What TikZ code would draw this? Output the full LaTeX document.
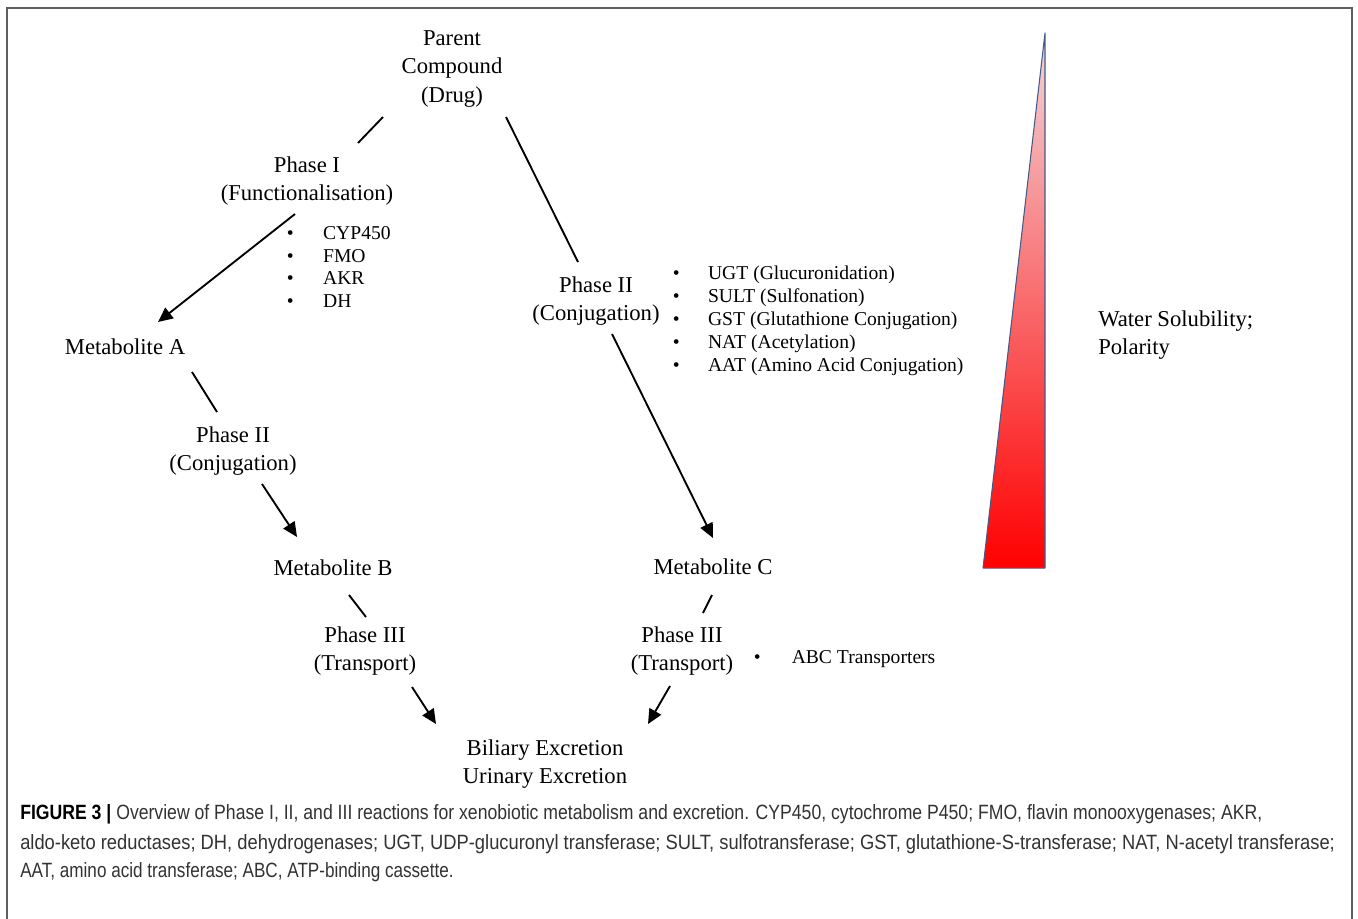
\documentclass[tikz,border=0pt]{standalone}
\usepackage{fontspec}
\usepackage{graphicx}
\setmainfont{Liberation Serif}
\newfontfamily\capfont{Liberation Sans}
\usetikzlibrary{arrows.meta}
\definecolor{framegray}{RGB}{95,95,95}
\definecolor{capgray}{RGB}{50,50,50}
\definecolor{tribord}{RGB}{70,90,135}
\definecolor{pinktop}{RGB}{243,214,218}
\newlength\capw
\newcommand\fitto[2]{\settowidth\capw{#2}\pgfmathsetmacro\myratio{#1/\capw}\scalebox{\myratio}[1]{#2}}
\newcommand\bul[1]{\makebox[#1][l]{\textbullet}}
\begin{document}
\begin{tikzpicture}[x=0.75pt,y=-0.75pt,
  lbl/.style={inner sep=0pt, align=center, font=\fontsize{17}{21.5}\selectfont},
  item/.style={inner sep=0pt, anchor=base west, font=\fontsize{14.7}{16}\selectfont},
  link/.style={line width=1.4pt},
  arr/.style={line width=1.4pt, -{Triangle[length=11pt,width=10pt]}},
  captext/.style={inner sep=0pt, anchor=base west, font=\capfont\fontsize{15.5}{17}\selectfont, text=capgray}]
\useasboundingbox (0,0) rectangle (1358,918);
\draw[framegray, line width=1.1pt] (7,8) rectangle (1352,940);

% main nodes
\node[lbl] (parent) at (452,69) {Parent\\Compound\\(Drug)};
\node[lbl] (p1) at (307,181) {Phase I\\(Functionalisation)};
\node[lbl] (ma) at (125,347) {Metabolite A};
\node[lbl] (p2l) at (233,451) {Phase II\\(Conjugation)};
\node[lbl] (mb) at (333,568) {Metabolite B};
\node[lbl] (p3l) at (365,651) {Phase III\\(Transport)};
\node[lbl] (exc) at (545,764) {Biliary Excretion\\Urinary Excretion};
\node[lbl] (p2r) at (596,301) {Phase II\\(Conjugation)};
\node[lbl] (mc) at (713,567) {Metabolite C};
\node[lbl] (p3r) at (682,651) {Phase III\\(Transport)};
\node[lbl, align=left, anchor=west] (ws) at (1098,335) {Water Solubility;\\Polarity};

% Phase I enzymes
\node[item] (e1) at (286.5,239.5) {\bul{27.3pt}CYP450};
\node[item] (e2) at (286.5,262) {\bul{27.3pt}FMO};
\node[item] (e3) at (286.5,284.5) {\bul{27.3pt}AKR};
\node[item] (e4) at (286.5,307) {\bul{27.3pt}DH};

% Phase II enzymes
\node[item] (f1) at (672.5,279.5) {\bul{26.5pt}UGT (Glucuronidation)};
\node[item] (f2) at (672.5,302.5) {\bul{26.5pt}SULT (Sulfonation)};
\node[item] (f3) at (672.5,325.5) {\bul{26.5pt}GST (Glutathione Conjugation)};
\node[item] (f4) at (672.5,348.5) {\bul{26.5pt}NAT (Acetylation)};
\node[item] (f5) at (672.5,371.5) {\bul{26.5pt}AAT (Amino Acid Conjugation)};

% Phase III transporters
\node[item] (g1) at (753.5,663.5) {\bul{28.5pt}ABC Transporters};

% connector end points
\coordinate (c1a) at (383,117);  \coordinate (c1b) at (358,143);
\coordinate (c2a) at (295,214);  \coordinate (c2b) at (158,322);
\coordinate (c3a) at (192,372);  \coordinate (c3b) at (217,412);
\coordinate (c4a) at (262,484);  \coordinate (c4b) at (297,537);
\coordinate (c5a) at (349,595);  \coordinate (c5b) at (366,617);
\coordinate (c6a) at (412,687);  \coordinate (c6b) at (436,724);
\coordinate (c7a) at (506,117);  \coordinate (c7b) at (578,262);
\coordinate (c8a) at (612,334);  \coordinate (c8b) at (713,538);
\coordinate (c9a) at (712,595);  \coordinate (c9b) at (703,613);
\coordinate (c10a) at (670,686); \coordinate (c10b) at (648,724);

\draw[link] (c1a) -- (c1b);
\draw[arr]  (c2a) -- (c2b);
\draw[link] (c3a) -- (c3b);
\draw[arr]  (c4a) -- (c4b);
\draw[link] (c5a) -- (c5b);
\draw[arr]  (c6a) -- (c6b);
\draw[link] (c7a) -- (c7b);
\draw[arr]  (c8a) -- (c8b);
\draw[link] (c9a) -- (c9b);
\draw[arr]  (c10a) -- (c10b);

% gradient triangle
\coordinate (tA) at (1045,33);
\coordinate (tB) at (983,568);
\coordinate (tC) at (1045,568);
\shade[top color=pinktop, bottom color=red] (tA) -- (tB) -- (tC) -- cycle;
\draw[tribord, line width=0.8pt, line join=round] (tA) -- (tB) -- (tC) -- cycle;

% caption
\node[captext] (cap1) at (20,819) {\fitto{931.5pt}{{\bfseries\color{black}FIGURE 3 |} Overview of Phase I, II, and III reactions for xenobiotic metabolism and excretion. CYP450, cytochrome P450; FMO, flavin monooxygenases; AKR,}};
\node[captext] (cap2) at (20,849) {\fitto{986pt}{aldo-keto reductases; DH, dehydrogenases; UGT, UDP-glucuronyl transferase; SULT, sulfotransferase; GST, glutathione-S-transferase; NAT, N-acetyl transferase;}};
\node[captext] (cap3) at (20,877) {\fitto{325pt}{AAT, amino acid transferase; ABC, ATP-binding cassette.}};
\end{tikzpicture}
\end{document}
